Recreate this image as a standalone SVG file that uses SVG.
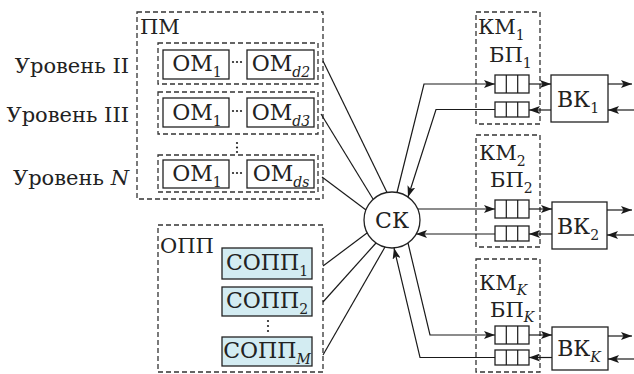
<svg xmlns="http://www.w3.org/2000/svg" width="634" height="374" viewBox="0 0 634 374">
<defs>
<marker id="ah" viewBox="0 0 11 8" refX="11" refY="4" markerWidth="11" markerHeight="8" markerUnits="userSpaceOnUse" orient="auto">
<path d="M0,0 L11,4 L0,8 L2.5,4 Z" fill="#1a1a1a"/>
</marker>
<style>
text{font-family:"DejaVu Serif","Liberation Serif",serif;fill:#222;font-size:21px}
.n{font-size:22px}
.sub{font-size:14px}
.it{font-style:italic}
.dash{fill:none;stroke:#333;stroke-width:1.3;stroke-dasharray:5,3}
.box{fill:#fff;stroke:#222;stroke-width:1.3}
.blue{fill:#d3ecf2;stroke:#222;stroke-width:1.3}
.ln{fill:none;stroke:#1a1a1a;stroke-width:1.2}
.arr{fill:none;stroke:#1a1a1a;stroke-width:1.2;marker-end:url(#ah)}
.dot{fill:#222}
</style>
</defs>
<rect width="634" height="374" fill="#fff"/>

<g id="labels">
<text x="129" y="73" text-anchor="end">Уровень II</text>
<text x="129" y="122" text-anchor="end">Уровень III</text>
<text x="129" y="185" text-anchor="end">Уровень <tspan class="it">N</tspan></text>
</g>

<g id="PM">
<rect class="dash" x="137" y="12" width="186" height="187"/>
<text x="140" y="34">ПМ</text>
</g>

<g id="level2">
<rect class="dash" x="158" y="43" width="160" height="41"/>
<rect class="box" x="163" y="50" width="66" height="29"/>
<text class="n" x="197" y="71" text-anchor="middle">ОМ<tspan class="sub" dy="6">1</tspan></text>
<circle class="dot" cx="233" cy="62" r="1.1"/><circle class="dot" cx="237" cy="62" r="1.1"/><circle class="dot" cx="241" cy="62" r="1.1"/>
<rect class="box" x="247" y="50" width="67" height="29"/>
<text class="n" x="281" y="71" text-anchor="middle">ОМ<tspan class="sub it" dy="6">d2</tspan></text>
</g>

<g id="level3">
<rect class="dash" x="158" y="92" width="160" height="42"/>
<rect class="box" x="163" y="98" width="66" height="29"/>
<text class="n" x="197" y="120" text-anchor="middle">ОМ<tspan class="sub" dy="6">1</tspan></text>
<circle class="dot" cx="233" cy="111" r="1.1"/><circle class="dot" cx="237" cy="111" r="1.1"/><circle class="dot" cx="241" cy="111" r="1.1"/>
<rect class="box" x="247" y="98" width="67" height="29"/>
<text class="n" x="281" y="120" text-anchor="middle">ОМ<tspan class="sub it" dy="6">d3</tspan></text>
</g>

<g id="vdots1">
<circle class="dot" cx="237" cy="143" r="1.1"/><circle class="dot" cx="237" cy="147.5" r="1.1"/><circle class="dot" cx="237" cy="152" r="1.1"/>
</g>

<g id="levelN">
<rect class="dash" x="158" y="155" width="160" height="37"/>
<rect class="box" x="163" y="160" width="66" height="28"/>
<text class="n" x="197" y="181" text-anchor="middle">ОМ<tspan class="sub" dy="6">1</tspan></text>
<circle class="dot" cx="233" cy="173" r="1.1"/><circle class="dot" cx="237" cy="173" r="1.1"/><circle class="dot" cx="241" cy="173" r="1.1"/>
<rect class="box" x="247" y="160" width="67" height="28"/>
<text class="n" x="281" y="181" text-anchor="middle">ОМ<tspan class="sub it" dy="6">ds</tspan></text>
</g>

<g id="OPP">
<rect class="dash" x="158" y="225" width="165" height="147"/>
<text x="160" y="253">ОПП</text>
</g>
<g id="SOPP1">
<rect class="blue" x="222" y="248" width="90" height="31"/>
<text class="n" x="267" y="270" text-anchor="middle">СОПП<tspan class="sub" dy="6">1</tspan></text>
</g>
<g id="SOPP2">
<rect class="blue" x="222" y="287" width="90" height="29"/>
<text class="n" x="267" y="308" text-anchor="middle">СОПП<tspan class="sub" dy="6">2</tspan></text>
</g>
<g id="vdots2">
<circle class="dot" cx="268" cy="321" r="1.1"/><circle class="dot" cx="268" cy="326" r="1.1"/><circle class="dot" cx="268" cy="331" r="1.1"/>
</g>
<g id="SOPPM">
<rect class="blue" x="222" y="337" width="90" height="29"/>
<text class="n" x="267" y="358" text-anchor="middle">СОПП<tspan class="sub it" dy="6">M</tspan></text>
</g>

<g id="SK">
<circle class="box" cx="392" cy="220" r="28"/>
<text class="n" x="392" y="228" text-anchor="middle">СК</text>
</g>

<g id="KM1">
<rect class="dash" x="476" y="12" width="64" height="112"/>
<text x="478" y="34">КМ<tspan class="sub" dy="6">1</tspan></text>
<text x="489" y="62">БП<tspan class="sub" dy="6">1</tspan></text>
<rect class="box" x="495" y="75" width="34" height="18"/>
<path class="ln" d="M506.3,75V93M517.7,75V93"/>
<rect class="box" x="495" y="102" width="34" height="15"/>
<path class="ln" d="M506.3,102V117M517.7,102V117"/>
</g>
<g id="KM2">
<rect class="dash" x="476" y="135" width="64" height="112"/>
<text x="479" y="160">КМ<tspan class="sub" dy="6">2</tspan></text>
<text x="490" y="187">БП<tspan class="sub" dy="6">2</tspan></text>
<rect class="box" x="495" y="200" width="34" height="18"/>
<path class="ln" d="M506.3,200V218M517.7,200V218"/>
<rect class="box" x="495" y="226" width="34" height="15"/>
<path class="ln" d="M506.3,226V241M517.7,226V241"/>
</g>
<g id="KMK">
<rect class="dash" x="476" y="259" width="64" height="113"/>
<text x="479" y="290">КМ<tspan class="sub it" dy="5">K</tspan></text>
<text x="490" y="317">БП<tspan class="sub it" dy="5">K</tspan></text>
<rect class="box" x="495" y="326" width="34" height="18"/>
<path class="ln" d="M506.3,326V344M517.7,326V344"/>
<rect class="box" x="495" y="350" width="34" height="15"/>
<path class="ln" d="M506.3,350V365M517.7,350V365"/>
</g>

<g id="VK1">
<rect class="box" x="551" y="75" width="57" height="47"/>
<text class="n" x="578" y="107" text-anchor="middle">ВК<tspan class="sub" dy="6">1</tspan></text>
</g>
<g id="VK2">
<rect class="box" x="552" y="202" width="55" height="47"/>
<text class="n" x="578" y="234" text-anchor="middle">ВК<tspan class="sub" dy="6">2</tspan></text>
</g>
<g id="VKK">
<rect class="box" x="552" y="327" width="56" height="43"/>
<text class="n" x="579" y="356" text-anchor="middle">ВК<tspan class="sub it" dy="6">K</tspan></text>
</g>

<g id="connectors">
<path class="ln" d="M323,61L387,192.5"/>
<path class="ln" d="M321,114L373,199"/>
<path class="ln" d="M322,177L366,210"/>
<path class="ln" d="M323,266L367,233"/>
<path class="ln" d="M323,302L376,243"/>
<path class="ln" d="M323,355L385,247"/>

<path class="arr" d="M397,192.5L424,84H495"/>
<path class="arr" d="M495,109.5H436L408,197"/>
<path class="arr" d="M418,209H495"/>
<path class="arr" d="M495,234H416"/>
<path class="arr" d="M408,243L430,335H495"/>
<path class="arr" d="M495,357.5H420L394,248"/>

<path class="arr" d="M529,84H551"/>
<path class="arr" d="M551,110H529"/>
<path class="arr" d="M608,84H632"/>
<path class="arr" d="M634,110H608"/>

<path class="arr" d="M529,209H552"/>
<path class="arr" d="M552,234H529"/>
<path class="arr" d="M607,210H632"/>
<path class="arr" d="M634,235H607"/>

<path class="arr" d="M529,335H552"/>
<path class="arr" d="M552,357.5H529"/>
<path class="arr" d="M608,336H632"/>
<path class="arr" d="M634,359H608"/>
</g>
</svg>
